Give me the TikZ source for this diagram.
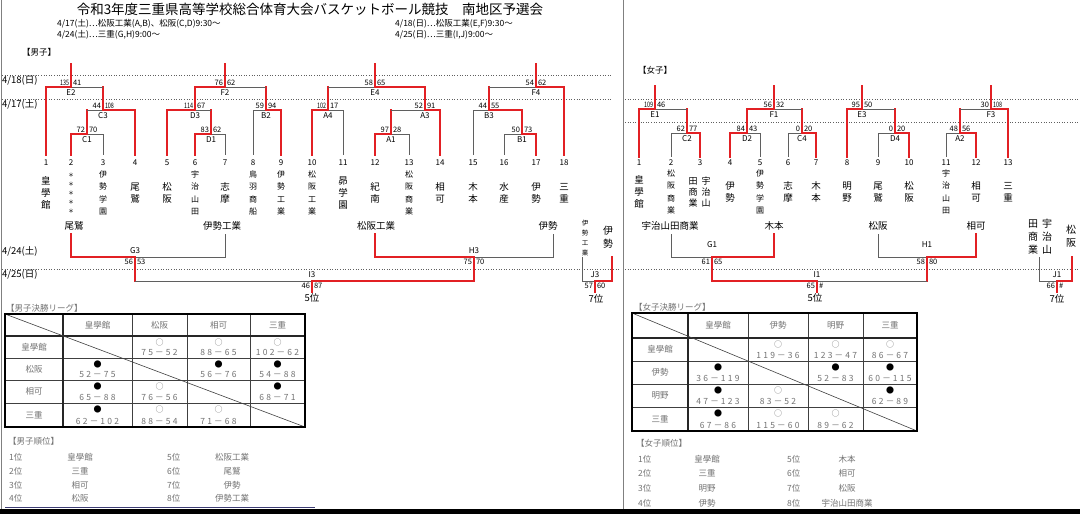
\documentclass[tikz,border=0pt]{standalone}
\usepackage{fontspec}
\usepackage{graphicx}
\setmainfont{Noto Sans CJK JP}
\definecolor{wred}{RGB}{226,32,36}
\definecolor{lgray}{RGB}{95,95,95}
\definecolor{tgray}{RGB}{115,115,115}
\definecolor{navyl}{RGB}{60,60,115}
\newcommand\nar[1]{\scalebox{0.72}[1]{#1}}
\def\spcA#1{#1\spcB}
\def\spcB#1{\ifx#1\relax\else\hspace{2.2pt}#1\expandafter\spcB\fi}
\newcommand\spaced[1]{\spcA#1\relax}
\def\ytop{234}
\def\ybot{155}
\def\loff{6}
\newcommand\tl[3]{\draw[#3] (#1,#2) -- (#1,\ybot);}
\newcommand\mup[9]{%
  \ifnum#6=1
    \draw[lose] (#3,#4) -- (#2,#4);
    \draw[win] (#1,#4) -- (#3,#4) -- (#3,#5);
  \else
    \draw[lose] (#1,#4) -- (#3,#4);
    \draw[win] (#2,#4) -- (#3,#4) -- (#3,#5);
  \fi
  \node[sc,anchor=south east] at ({#3-1.5},{#4-1.2}) {#7};
  \node[sc,anchor=south west] at ({#3+1.5},{#4-1.2}) {#8};
  \node[lab] at (#3,{#4+\loff}) {#9};
}
\newcommand\mdn[9]{%
  \ifnum#6=1
    \draw[lose] (#2,\ytop) -- (#2,#4) -- (#3,#4);
    \draw[win] (#1,\ytop) -- (#1,#4) -- (#3,#4) -- (#3,#5);
  \else
    \draw[lose] (#1,\ytop) -- (#1,#4) -- (#3,#4);
    \draw[win] (#2,\ytop) -- (#2,#4) -- (#3,#4) -- (#3,#5);
  \fi
  \node[sc,anchor=north east] at ({#3-1.5},{#4+1.8}) {#7};
  \node[sc,anchor=north west] at ({#3+1.5},{#4+1.8}) {#8};
  \node[lab] at (#3,{#4-\loff}) {#9};
}
\newcommand\ow{{\color{tgray}○}}
\newcommand\bk{●}
\newcommand\cell[5]{%
  \node[sym] at (#1,{#2+6.5}) {#4};
  \node[scr] at (#1,{#3-6}) {\spaced{#5}};
}
\begin{document}
\begin{tikzpicture}[x=1pt,y=-1pt,
  win/.style={draw=wred,line width=1.5pt,line cap=rect},
  lose/.style={draw=lgray,line width=0.8pt},
  dotl/.style={draw=lgray,line width=0.7pt,dash pattern=on 1pt off 1.6pt},
  sc/.style={font=\fontsize{7.5}{8}\selectfont,inner sep=0.3pt},
  lab/.style={font=\fontsize{8}{9}\selectfont,inner sep=0},
  num/.style={font=\fontsize{8}{9}\selectfont,inner sep=0},
  vname/.style={align=center,inner sep=0,font=\fontsize{9.5}{12.3}\selectfont},
  vsmall/.style={align=center,inner sep=0,font=\fontsize{8}{12.3}\selectfont},
  hname/.style={inner sep=0,font=\fontsize{9.5}{11}\selectfont},
  hd/.style={inner sep=0,anchor=west,font=\fontsize{8.5}{10}\selectfont},
  dt/.style={inner sep=0,anchor=west,font=\fontsize{9.5}{10}\selectfont},
  tt/.style={inner sep=0,font=\fontsize{8.5}{10}\selectfont,text=tgray},
  sym/.style={inner sep=0,font=\fontsize{8}{9}\selectfont},
  scr/.style={inner sep=0,font=\fontsize{8.5}{10}\selectfont,text=tgray},
  tthick/.style={draw=black,line width=1.5pt},
  tmid/.style={draw=black!85,line width=1.1pt},
  tthin/.style={draw=black!75,line width=0.6pt},
  rk/.style={inner sep=0,font=\fontsize{8.5}{10}\selectfont,text=tgray}]
\useasboundingbox (0,0) rectangle (1080,514);
\fill[white] (0,0) rectangle (1080,514);
\fill[black] (0,509) rectangle (1080,514);
\draw[draw=gray,line width=0.8pt] (1,0) -- (1,509);
\draw[draw=gray,line width=0.8pt] (623,0) -- (623,509);
% headings
\node[inner sep=0,font=\fontsize{13.5}{15}\selectfont] (title) at (310,9) {令和3年度三重県高等学校総合体育大会バスケットボール競技　南地区予選会};
\node[hd] (h1) at (57,24) {4/17(土)…松阪工業(A,B)、松阪(C,D)9:30～};
\node[hd] (h2) at (57,35) {4/24(土)…三重(G,H)9:00～};
\node[hd] (h3) at (395,24) {4/18(日)…松阪工業(E,F)9:30～};
\node[hd] (h4) at (395,35) {4/25(日)…三重(I,J)9:00～};
\node[hd] (mlab) at (22,52) {【男子】};
\node[hd] (flab) at (638,70) {【女子】};
% dotted day lines
\draw[dotl] (2,75) -- (612,75);
\draw[dotl] (2,99) -- (612,99);
\draw[dotl] (2,269) -- (620,269);
\draw[dotl] (625,99) -- (1080,99);
\draw[dotl] (625,122) -- (1080,122);
\draw[dotl] (625,269) -- (1080,269);
\node[dt] (d1) at (2,81) {4/18(日)};
\node[dt] (d2) at (2,104) {4/17(土)};
\node[dt] (d3) at (2,251) {4/24(土)};
\node[dt] (d4) at (2,275) {4/25(日)};
% ===== men bracket =====
\def\ybot{155}
\tl{46}{87}{win}\tl{71}{134}{win}\tl{103}{134}{lose}\tl{135}{110}{win}
\mup{71}{103}{87}{134}{110}{1}{72}{70}{C1}
\mup{87}{135}{103}{110}{87}{0}{44}{\nar{108}}{C3}
\mup{46}{103}{71}{87}{64}{1}{\nar{135}}{41}{E2}
\tl{167}{110}{win}\tl{195}{134}{win}\tl{225}{134}{lose}\tl{253}{110}{lose}\tl{281}{110}{win}
\mup{195}{225}{211}{134}{110}{1}{83}{62}{D1}
\mup{167}{211}{195}{110}{87}{1}{\nar{114}}{67}{D3}
\mup{253}{281}{266}{110}{87}{0}{59}{94}{B2}
\mup{195}{266}{225}{87}{64}{1}{76}{62}{F2}
\tl{312}{110}{win}\tl{343}{110}{lose}\tl{375}{134}{win}\tl{409}{134}{lose}\tl{440}{110}{win}
\mup{312}{343}{328}{110}{87}{1}{\nar{102}}{17}{A4}
\mup{375}{409}{391}{134}{110}{1}{97}{28}{A1}
\mup{391}{440}{425}{110}{87}{0}{52}{91}{A3}
\mup{328}{425}{375}{87}{64}{0}{58}{65}{E4}
\tl{473}{110}{lose}\tl{504}{134}{lose}\tl{536}{134}{win}\tl{564}{87}{win}
\mup{504}{536}{522}{134}{110}{0}{50}{73}{B1}
\mup{473}{522}{489}{110}{87}{0}{44}{55}{B3}
\mup{489}{564}{536}{87}{64}{0}{54}{62}{F4}
\foreach \x/\n in {46/1,71/2,103/3,135/4,167/5,195/6,225/7,253/8,281/9,312/10,343/11,375/12,409/13,440/14,473/15,504/16,536/17,564/18}
  \node[num] (mn\n) at (\x,163) {\n};
\node[vname] (m1) at (46,193) {皇\\學\\館};
\node[align=center,inner sep=0,font=\fontsize{6}{9}\selectfont] (m2) at (71,193) {＊\\＊\\＊\\＊\\＊};
\node[vsmall] (m3) at (103,193) {伊\\勢\\学\\園};
\node[vname] (m4) at (135,193) {尾\\鷲};
\node[vname] (m5) at (167,193) {松\\阪};
\node[vsmall] (m6) at (195,193) {宇\\治\\山\\田};
\node[vname] (m7) at (225,193) {志\\摩};
\node[vsmall] (m8) at (253,193) {鳥\\羽\\商\\船};
\node[vsmall] (m9) at (281,193) {伊\\勢\\工\\業};
\node[vsmall] (m10) at (312,193) {松\\阪\\工\\業};
\node[vname] (m11) at (343,193) {昴\\学\\園};
\node[vname] (m12) at (375,193) {紀\\南};
\node[vsmall] (m13) at (409,193) {松\\阪\\商\\業};
\node[vname] (m14) at (440,193) {相\\可};
\node[vname] (m15) at (473,193) {木\\本};
\node[vname] (m16) at (504,193) {水\\産};
\node[vname] (m17) at (536,193) {伊\\勢};
\node[vname] (m18) at (564,193) {三\\重};
% men second stage
\node[hname] (g3a) at (74,226) {尾鷲};
\node[hname] (g3b) at (222,226) {伊勢工業};
\node[hname] (h3a) at (376,226) {松阪工業};
\node[hname] (h3b) at (548,226) {伊勢};
\def\ytop{234}
\mdn{71}{225}{135}{257}{281}{1}{56}{53}{G3}
\mdn{375}{553}{474}{257}{281}{1}{75}{70}{H3}
\def\ytop{281}
\mdn{135}{474}{312}{281}{292}{0}{46}{87}{I3}
\node[align=center,inner sep=0,font=\fontsize{6.5}{10}\selectfont] (j3a) at (585,238) {伊\\勢\\工\\業};
\node[vname,font=\fontsize{10}{13}\selectfont] (j3b) at (608,237) {伊\\勢};
\def\ytop{257}
\mdn{582}{612}{595}{281}{292}{0}{57}{60}{J3}
\node[hname] (m5th) at (312,298) {5位};
\node[hname] (m7th) at (596,299) {7位};
% ===== women bracket =====
\def\ybot{157}
\tl{639}{109}{win}\tl{671}{133}{lose}\tl{700}{133}{win}
\mup{671}{700}{687}{133}{109}{0}{62}{77}{C2}
\mup{639}{687}{655}{109}{86}{1}{\nar{109}}{46}{E1}
\tl{730}{133}{win}\tl{760}{133}{lose}\tl{788}{133}{lose}\tl{816}{133}{win}
\mup{730}{760}{747}{133}{109}{1}{84}{43}{D2}
\mup{788}{816}{802}{133}{109}{0}{0}{20}{C4}
\mup{747}{802}{774}{109}{86}{1}{56}{32}{F1}
\tl{847}{109}{win}\tl{878}{133}{lose}\tl{909}{133}{win}
\mup{878}{909}{895}{133}{109}{0}{0}{20}{D4}
\mup{847}{895}{862}{109}{86}{1}{95}{50}{E3}
\tl{946}{133}{lose}\tl{976}{133}{win}\tl{1008}{109}{win}
\mup{946}{976}{960}{133}{109}{0}{48}{56}{A2}
\mup{960}{1008}{991}{109}{86}{0}{30}{\nar{108}}{F3}
\foreach \x/\n in {639/1,671/2,700/3,730/4,760/5,788/6,816/7,847/8,878/9,909/10,946/11,976/12,1008/13}
  \node[num] (fn\n) at (\x,163) {\n};
\node[vname] (f1) at (639,192) {皇\\學\\館};
\node[vsmall] (f2) at (671,192) {松\\阪\\商\\業};
\node[align=center,inner sep=0,font=\fontsize{9}{11}\selectfont] (f3a) at (706,192) {宇\\治\\山};
\node[align=center,inner sep=0,font=\fontsize{9}{11}\selectfont] (f3b) at (693,192) {田\\商\\業};
\node[vname] (f4) at (730,192) {伊\\勢};
\node[vsmall] (f5) at (760,192) {伊\\勢\\学\\園};
\node[vname] (f6) at (788,192) {志\\摩};
\node[vname] (f7) at (816,192) {木\\本};
\node[vname] (f8) at (847,192) {明\\野};
\node[vname] (f9) at (878,192) {尾\\鷲};
\node[vname] (f10) at (909,192) {松\\阪};
\node[vsmall] (f11) at (946,192) {宇\\治\\山\\田};
\node[vname] (f12) at (976,192) {相\\可};
\node[vname] (f13) at (1008,192) {三\\重};
% women second stage
\node[hname] (g1a) at (670,226) {宇治山田商業};
\node[hname] (g1b) at (774,226) {木本};
\node[hname] (h1a) at (878,226) {松阪};
\node[hname] (h1b) at (976,226) {相可};
\def\ytop{234}
\def\loff{12}
\mdn{671}{774}{712}{257}{281}{0}{61}{65}{G1}
\mdn{878}{976}{927}{257}{281}{0}{58}{80}{H1}
\def\loff{6}
\def\ytop{281}
\mdn{712}{927}{817}{281}{292}{1}{65}{\#}{I1}
\node[align=center,inner sep=0,font=\fontsize{10}{13}\selectfont] (j1a) at (1047,237) {宇\\治\\山};
\node[align=center,inner sep=0,font=\fontsize{10}{13}\selectfont] (j1b) at (1033,237) {田\\商\\業};
\node[vname,font=\fontsize{10}{13}\selectfont] (j1c) at (1071,236.5) {松\\阪};
\def\ytop{257}
\mdn{1039}{1072}{1057}{281}{292}{0}{66}{\#}{J1}
\node[hname] (f5th) at (815,298) {5位};
\node[hname] (f7th) at (1057,299) {7位};
% ===== men league table =====
\node[hd,text=tgray] (mlt) at (6,308) {【男子決勝リーグ】};
\foreach \x in {132,187,250} \draw[tthin] (\x,314) -- (\x,427);
\foreach \y in {358,380,403} \draw[tthin] (5,\y) -- (305,\y);
\draw[tmid] (63,314) -- (63,427);
\draw[tmid] (5,336) -- (305,336);
\draw[tthin] (5,314) -- (305,427);
\draw[tthick] (5,314) rectangle (305,427);
\foreach \x/\t in {97.5/皇學館,159.5/松阪,218.5/相可,277.5/三重} \node[tt] at (\x,325) {\t};
\foreach \y/\t in {347/皇學館,369/松阪,391.5/相可,415/三重} \node[tt] at (34,\y) {\t};
\cell{159.5}{336}{358}{\ow}{75－52}
\cell{218.5}{336}{358}{\ow}{88－65}
\cell{277.5}{336}{358}{\ow}{102－62}
\cell{97.5}{358}{380}{\bk}{52－75}
\cell{218.5}{358}{380}{\bk}{56－76}
\cell{277.5}{358}{380}{\bk}{54－88}
\cell{97.5}{380}{403}{\bk}{65－88}
\cell{159.5}{380}{403}{\ow}{76－56}
\cell{277.5}{380}{403}{\bk}{68－71}
\cell{97.5}{403}{427}{\bk}{62－102}
\cell{159.5}{403}{427}{\ow}{88－54}
\cell{218.5}{403}{427}{\ow}{71－68}
% ===== women league table =====
\node[hd,text=tgray] (flt) at (634,307) {【女子決勝リーグ】};
\foreach \x in {748,808,863} \draw[tthin] (\x,313) -- (\x,431);
\foreach \y in {361,384,407} \draw[tthin] (632,\y) -- (917,\y);
\draw[tmid] (688,313) -- (688,431);
\draw[tmid] (632,338) -- (917,338);
\draw[tthin] (632,313) -- (917,431);
\draw[tthick] (632,313) rectangle (917,431);
\foreach \x/\t in {718/皇學館,778/伊勢,835.5/明野,890/三重} \node[tt] at (\x,325.5) {\t};
\foreach \y/\t in {349.5/皇學館,372.5/伊勢,395.5/明野,419/三重} \node[tt] at (660,\y) {\t};
\cell{778}{338}{361}{\ow}{119－36}
\cell{835.5}{338}{361}{\ow}{123－47}
\cell{890}{338}{361}{\ow}{86－67}
\cell{718}{361}{384}{\bk}{36－119}
\cell{835.5}{361}{384}{\bk}{52－83}
\cell{890}{361}{384}{\bk}{60－115}
\cell{718}{384}{407}{\bk}{47－123}
\cell{778}{384}{407}{\ow}{83－52}
\cell{890}{384}{407}{\bk}{62－89}
\cell{718}{407}{431}{\bk}{67－86}
\cell{778}{407}{431}{\ow}{115－60}
\cell{835.5}{407}{431}{\ow}{89－62}
% ===== rankings =====
\node[hd,text=tgray] (mrk) at (8,441) {【男子順位】};
\foreach \y/\a/\b/\c/\d in {457/1位/皇學館/5位/松阪工業,471/2位/三重/6位/尾鷲,485/3位/相可/7位/伊勢,498/4位/松阪/8位/伊勢工業}{
  \node[rk,anchor=west] at (9,\y) {\a};
  \node[rk] at (80,\y) {\b};
  \node[rk,anchor=west] at (167,\y) {\c};
  \node[rk] at (232,\y) {\d};
}
\draw[navyl,line width=0.9pt] (5,507) -- (315,507);
\node[hd,text=tgray] (frk) at (636,443) {【女子順位】};
\foreach \y/\a/\b/\c/\d in {459/1位/皇學館/5位/木本,473/2位/三重/6位/相可,488/3位/明野/7位/松阪,503/4位/伊勢/8位/宇治山田商業}{
  \node[rk,anchor=west] at (638,\y) {\a};
  \node[rk] at (707,\y) {\b};
  \node[rk,anchor=west] at (787,\y) {\c};
  \node[rk] at (847,\y) {\d};
}
\end{tikzpicture}
\end{document}
